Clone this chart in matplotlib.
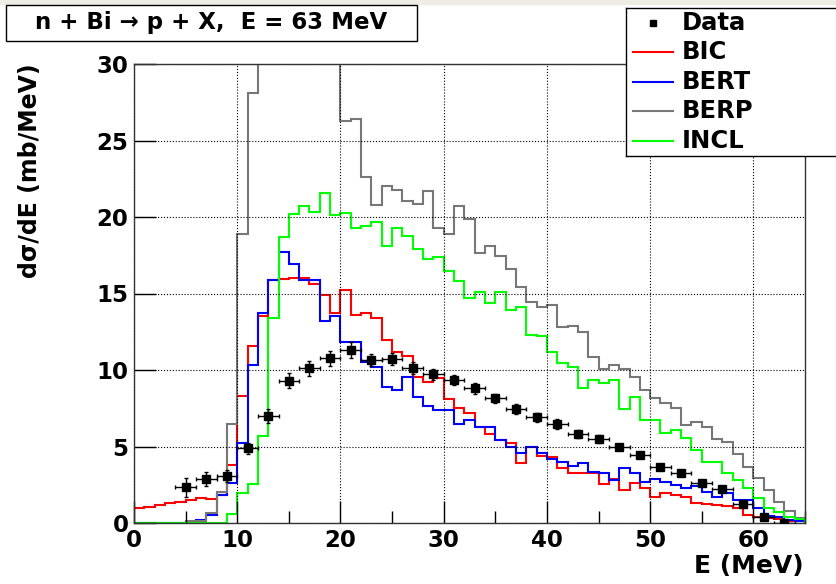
import matplotlib
matplotlib.use("Agg")
import matplotlib.pyplot as plt
from matplotlib.patches import Rectangle
import numpy as np

# 1 MeV bins from 0 to 65 MeV
edges = np.arange(0, 66, 1)

bic = [0.96, 1.07, 1.18, 1.29, 1.4, 1.5, 1.63, 1.55, 1.85, 3.8,
       8.3, 11.6, 13.5, 15.9, 15.95, 16.0, 16.0, 15.6, 14.9, 13.7,
       15.2, 13.6, 13.7, 13.4, 11.96, 11.2, 10.9, 9.56, 9.2, 9.5,
       8.1, 7.5, 7.2, 6.3, 5.8, 5.4, 5.2, 3.94, 5.0, 4.4,
       4.3, 3.6, 3.27, 3.27, 3.27, 2.55, 2.9, 2.15, 2.6, 2.3,
       1.68, 1.94, 1.85, 1.68, 1.29, 1.25, 1.2, 1.1, 0.96, 0.52,
       0.42, 0.3, 0.24, 0.15, 0.1]

bert = [0, 0, 0, 0, 0, 0, 0.2, 0.5, 1.8, 2.6,
        5.2, 10.3, 13.7, 15.9, 17.7, 16.9, 15.9, 15.9, 13.2, 13.5,
        11.85, 11.8, 10.5, 10.2, 8.9, 8.7, 9.56, 8.26, 7.65, 7.4,
        7.4, 6.5, 6.7, 6.3, 6.3, 5.4, 4.94, 4.6, 4.94, 4.6,
        4.2, 4.0, 3.7, 3.94, 3.35, 3.3, 2.8, 3.57, 3.25, 2.7,
        2.85, 2.7, 2.48, 2.3, 2.45, 2.05, 1.7, 1.96, 1.5, 1.5,
        0.96, 0.46, 0.42, 0.2, 0.1]

# bins 12-19 go off the top of the frame (> 30), values there are guesses
berp = [0, 0, 0, 0, 0, 0.13, 0.13, 0.65, 2.05, 6.47,
        18.9, 28.1, 36.0, 42.0, 45.0, 44.0, 41.0, 38.0, 35.0, 32.0,
        26.3, 26.4, 22.6, 20.8, 22.05, 21.76, 21.07, 20.85, 21.7, 19.3,
        18.87, 20.74, 19.87, 17.67, 18.1, 17.47, 16.6, 15.45, 14.46, 14.1,
        14.25, 12.8, 12.9, 12.5, 10.87, 10.05, 10.3, 10.05, 9.56, 8.7,
        8.15, 7.87, 7.5, 6.4, 6.6, 6.3, 5.47, 5.32, 4.5, 3.68,
        2.92, 2.15, 1.39, 0.78, 0.3]

incl = [0, 0, 0, 0, 0, 0, 0, 0, 0, 0.59,
        1.98, 2.55, 5.69, 13.4, 18.7, 20.17, 20.7, 20.3, 21.55, 20.1,
        20.24, 19.3, 19.4, 19.7, 18.1, 19.26, 18.78, 17.9, 17.25, 17.4,
        16.5, 15.84, 14.7, 15.1, 14.36, 15.1, 13.9, 14.1, 12.3, 12.2,
        11.2, 10.44, 10.2, 8.8, 9.35, 9.13, 9.35, 7.43, 8.26, 6.73,
        6.73, 5.9, 6.07, 5.53, 4.77, 4.0, 4.0, 3.25, 2.8, 2.27,
        1.61, 0.96, 0.7, 0.41, 0.25]

data_e = np.arange(5, 64, 2)
data_y = [2.33, 2.87, 3.07, 4.88, 7.0, 9.3, 10.1, 10.76, 11.3, 10.65,
          10.72, 10.15, 9.72, 9.35, 8.8, 8.15, 7.45, 6.9, 6.47, 5.82,
          5.47, 4.99, 4.44, 3.64, 3.25, 2.59, 2.2, 1.22, 0.37, 0.02]
data_yerr = [0.6, 0.45, 0.4, 0.35, 0.45, 0.5, 0.5, 0.5, 0.5, 0.4,
             0.4, 0.4, 0.35, 0.35, 0.35, 0.3, 0.3, 0.3, 0.3, 0.25,
             0.25, 0.2, 0.2, 0.2, 0.2, 0.2, 0.15, 0.15, 0.1, 0.1]
data_xerr = 1.0

W, H = 837, 584
fig = plt.figure(figsize=(W / 100, H / 100), dpi=100)

# thin beige strip at the very top
fig.patches.append(Rectangle((0, 1 - 4 / H), 1, 4 / H, transform=fig.transFigure,
                             color="#eeece3", zorder=0))

ax = fig.add_axes([134 / W, 61 / H, 671 / W, 459 / H])

ax.stairs(bic, edges, color="#ff0000", lw=1.5)
ax.stairs(bert, edges, color="#0000ff", lw=1.5)
ax.stairs(berp, edges, color="#777777", lw=1.5)
ax.stairs(incl, edges, color="#00ff00", lw=1.5)
ax.errorbar(data_e, data_y, xerr=data_xerr, yerr=data_yerr, fmt="s",
            color="black", ms=6, elinewidth=1, capsize=1.5, zorder=5)

ax.set_xlim(0, 65)
ax.set_ylim(0, 30)
ax.set_xticks(np.arange(0, 61, 10))
ax.set_xticks(np.arange(5, 66, 10), minor=True)
ax.set_yticks(np.arange(0, 31, 5))
ax.grid(True, which="major", linestyle=":", color="black", lw=0.8)
ax.tick_params(which="major", direction="in", length=16, width=1,
               labelsize=16.5, pad=4)
ax.tick_params(which="minor", direction="in", length=8.5, width=1)
ax.tick_params(axis="x", which="major", pad=4)
for lab in ax.get_xticklabels() + ax.get_yticklabels():
    lab.set_fontweight("bold")
for sp in ax.spines.values():
    sp.set_color("#333333")
    sp.set_linewidth(1)

fig.text(804 / W, 1 - 566 / H, "E (MeV)", ha="right", va="center",
         fontsize=18, fontweight="bold")
fig.text(30 / W, 1 - 171 / H, "dσ/dE (mb/MeV)", rotation=90, ha="center",
         va="center", fontsize=17, fontweight="bold")

# title box
fig.patches.append(Rectangle((6 / W, 1 - 41 / H), 411 / W, 36 / H,
                             transform=fig.transFigure, facecolor="white",
                             edgecolor="black", lw=1, zorder=3))
fig.text(211 / W, 1 - 23 / H, "n + Bi → p + X,  E = 63 MeV", ha="center",
         va="center", fontsize=16.5, fontweight="bold", zorder=4)

# legend box
lg = fig.add_axes([626 / W, 1 - 156 / H, 211 / W, 148 / H])
lg.set_xlim(0, 211)
lg.set_ylim(148, 0)
lg.set_xticks([])
lg.set_yticks([])
for sp in lg.spines.values():
    sp.set_color("black")
    sp.set_linewidth(1)

labels = ["Data", "BIC", "BERT", "BERP", "INCL"]
colors = [None, "#ff0000", "#0000ff", "#777777", "#00ff00"]
rows = [15, 44, 74, 103, 133]
for lab, col, yy in zip(labels, colors, rows):
    if col is None:
        lg.plot([27], [yy], "s", color="black", ms=5)
    else:
        lg.plot([7, 47], [yy, yy], color=col, lw=1.5)
    lg.text(56, yy, lab, ha="left", va="center", fontsize=17.5,
            fontweight="bold")

fig.savefig("out.png", dpi=100)
